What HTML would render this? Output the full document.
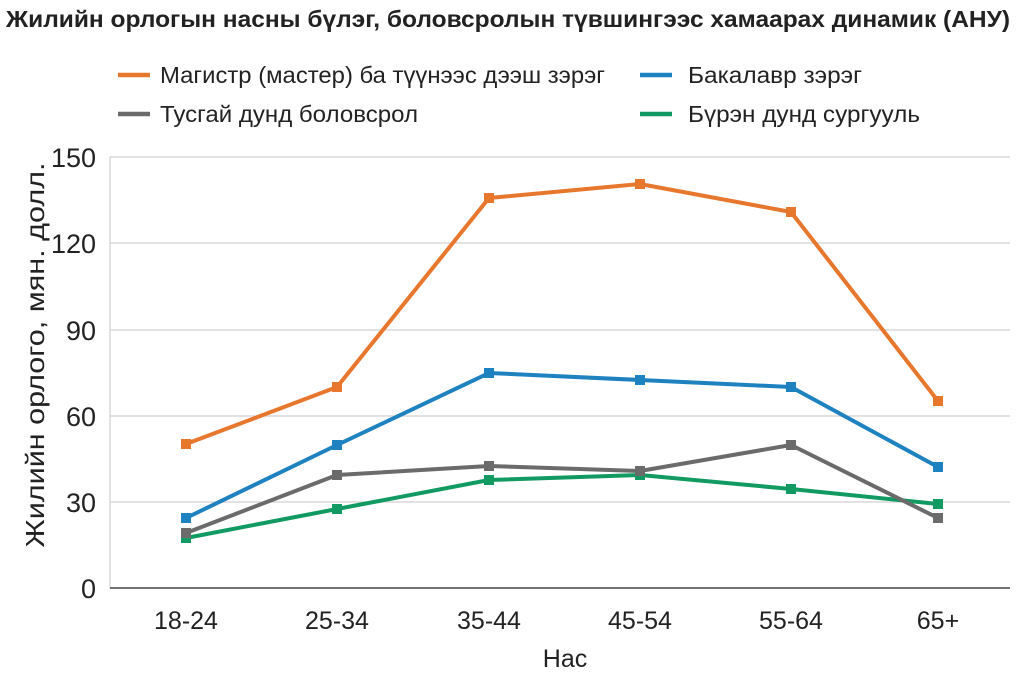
<!DOCTYPE html>
<html><head><meta charset="utf-8"><style>
body{margin:0;background:#fff;}
svg{display:block;font-family:"Liberation Sans","DejaVu Sans",sans-serif;}
</style></head><body>
<svg width="1024" height="674" viewBox="0 0 1024 674">
<text x="6" y="27" font-size="23" font-weight="bold" fill="#222" textLength="1004" lengthAdjust="spacingAndGlyphs">Жилийн орлогын насны бүлэг, боловсролын түвшингээс хамаарах динамик (АНУ)</text>
<g font-size="23" fill="#222">
<line x1="118" y1="75" x2="150" y2="75" stroke="#e8772e" stroke-width="4.5"/>
<text x="160" y="83" textLength="445" lengthAdjust="spacingAndGlyphs">Магистр (мастер) ба түүнээс дээш зэрэг</text>
<line x1="640" y1="75" x2="672" y2="75" stroke="#1f82c0" stroke-width="4.5"/>
<text x="688" y="83" textLength="174" lengthAdjust="spacingAndGlyphs">Бакалавр зэрэг</text>
<line x1="118" y1="114" x2="150" y2="114" stroke="#6b6b6b" stroke-width="4.5"/>
<text x="160" y="122" textLength="258" lengthAdjust="spacingAndGlyphs">Тусгай дунд боловсрол</text>
<line x1="640" y1="114" x2="672" y2="114" stroke="#119a61" stroke-width="4.5"/>
<text x="688" y="122" textLength="232" lengthAdjust="spacingAndGlyphs">Бүрэн дунд сургууль</text>
</g>
<g stroke="#d0d0d0" stroke-width="1.2">
<line x1="110" y1="157" x2="1010" y2="157"/>
<line x1="110" y1="243" x2="1010" y2="243"/>
<line x1="110" y1="330" x2="1010" y2="330"/>
<line x1="110" y1="416" x2="1010" y2="416"/>
<line x1="110" y1="502" x2="1010" y2="502"/>
<line x1="110" y1="157" x2="110" y2="588"/>
</g>
<line x1="110" y1="588" x2="1010" y2="588" stroke="#444" stroke-width="1.5"/>
<g font-size="27" fill="#222" text-anchor="end">
<text x="96" y="167">150</text><text x="96" y="253">120</text><text x="96" y="340">90</text>
<text x="96" y="426">60</text><text x="96" y="512">30</text><text x="96" y="598">0</text>
</g>
<g font-size="25" fill="#222" text-anchor="middle">
<text x="186" y="629">18-24</text><text x="337" y="629">25-34</text><text x="489" y="629">35-44</text>
<text x="640" y="629">45-54</text><text x="791" y="629">55-64</text><text x="938" y="629">65+</text>
<text x="565" y="667">Нас</text>
</g>
<text transform="translate(44,355) rotate(-90)" font-size="26" fill="#222" text-anchor="middle" textLength="385" lengthAdjust="spacingAndGlyphs">Жилийн орлого, мян. долл.</text>
<g fill="none" stroke-width="4" stroke-linejoin="round">
<polyline stroke="#119a61" points="186,538 337,509 489,480 640,475 791,489 938,504"/>
<polyline stroke="#6b6b6b" points="186,533 337,475 489,466 640,471 791,445 938,518"/>
<polyline stroke="#1f82c0" points="186,518 337,445 489,373 640,380 791,387 938,467"/>
<polyline stroke="#e8772e" points="186,444 337,387 489,198 640,184 791,212 938,401"/>
</g>
<g fill="#119a61"><rect x="181" y="533" width="10" height="10"/><rect x="332" y="504" width="10" height="10"/><rect x="484" y="475" width="10" height="10"/><rect x="635" y="470" width="10" height="10"/><rect x="786" y="484" width="10" height="10"/><rect x="933" y="499" width="10" height="10"/></g>
<g fill="#6b6b6b"><rect x="181" y="528" width="10" height="10"/><rect x="332" y="470" width="10" height="10"/><rect x="484" y="461" width="10" height="10"/><rect x="635" y="466" width="10" height="10"/><rect x="786" y="440" width="10" height="10"/><rect x="933" y="513" width="10" height="10"/></g>
<g fill="#1f82c0"><rect x="181" y="513" width="10" height="10"/><rect x="332" y="440" width="10" height="10"/><rect x="484" y="368" width="10" height="10"/><rect x="635" y="375" width="10" height="10"/><rect x="786" y="382" width="10" height="10"/><rect x="933" y="462" width="10" height="10"/></g>
<g fill="#e8772e"><rect x="181" y="439" width="10" height="10"/><rect x="332" y="382" width="10" height="10"/><rect x="484" y="193" width="10" height="10"/><rect x="635" y="179" width="10" height="10"/><rect x="786" y="207" width="10" height="10"/><rect x="933" y="396" width="10" height="10"/></g>
</svg>
</body></html>
